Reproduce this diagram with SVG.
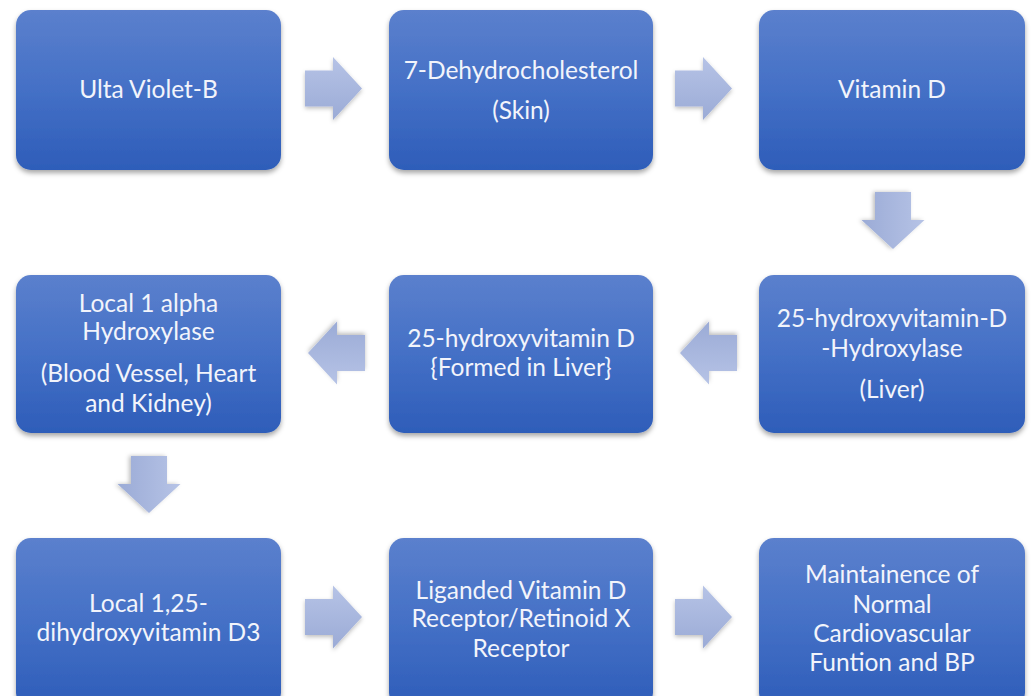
<svg xmlns="http://www.w3.org/2000/svg" width="1034" height="696" viewBox="0 0 1034 696">
<defs>
<linearGradient id="boxg" x1="0" y1="0" x2="0" y2="1">
<stop offset="0" stop-color="#5b80cd"/>
<stop offset="0.5" stop-color="#4470c6"/>
<stop offset="1" stop-color="#2e5db9"/>
</linearGradient>
<linearGradient id="arrg" x1="0" y1="0" x2="0" y2="1">
<stop offset="0" stop-color="#b6c3e6"/>
<stop offset="1" stop-color="#9babd6"/>
</linearGradient>
<filter id="sh" x="-10%" y="-10%" width="120%" height="125%">
<feDropShadow dx="0" dy="3" stdDeviation="2.5" flood-color="#000" flood-opacity="0.35"/>
</filter>
<filter id="ash" x="-20%" y="-20%" width="140%" height="150%">
<feDropShadow dx="0" dy="2" stdDeviation="2" flood-color="#000" flood-opacity="0.25"/>
</filter>
<path id="ar" d="M0,-18 H28 V-31.5 L57,0 L28,31.5 V18 H0 Z"/>
</defs>
<style>
.box{fill:url(#boxg);filter:url(#sh)}
.arr{fill:url(#arrg);filter:url(#ash)}
text{font-family:Lato,"Open Sans","Liberation Sans",sans-serif;font-size:24.5px;fill:#f2f4fb;text-anchor:middle}
</style>
<rect width="1034" height="696" fill="#ffffff"/>
<g id="connectors">
<use href="#ar" class="arr" transform="translate(305,88.5)"/>
<use href="#ar" class="arr" transform="translate(675,88.5)"/>
<use href="#ar" class="arr" transform="translate(893,192) rotate(90)"/>
<use href="#ar" class="arr" transform="translate(737,353) rotate(180)"/>
<use href="#ar" class="arr" transform="translate(365,353) rotate(180)"/>
<use href="#ar" class="arr" transform="translate(149,456) rotate(90)"/>
<use href="#ar" class="arr" transform="translate(305,617)"/>
<use href="#ar" class="arr" transform="translate(675,617)"/>
</g>
<g id="n1"><rect class="box" x="16" y="10" width="265" height="160" rx="15"/><text x="148.5" y="98">Ulta Violet-B</text></g>
<g id="n2"><rect class="box" x="389" y="10" width="264" height="160" rx="15"/><text x="521" y="79">7-Dehydrocholesterol</text><text x="521" y="119">(Skin)</text></g>
<g id="n3"><rect class="box" x="759" y="10" width="266" height="160" rx="15"/><text x="892" y="98">Vitamin D</text></g>
<g id="n4"><rect class="box" x="759" y="275" width="266" height="158" rx="15"/><text x="892" y="327">25-hydroxyvitamin-D</text><text x="892" y="357">-Hydroxylase</text><text x="892" y="398">(Liver)</text></g>
<g id="n5"><rect class="box" x="389" y="275" width="264" height="158" rx="15"/><text x="521" y="347">25-hydroxyvitamin D</text><text x="521" y="376">{Formed in Liver}</text></g>
<g id="n6"><rect class="box" x="16" y="275" width="265" height="158" rx="15"/><text x="148.5" y="312">Local 1 alpha</text><text x="148.5" y="340">Hydroxylase</text><text x="148.5" y="382">(Blood Vessel, Heart</text><text x="148.5" y="412">and Kidney)</text></g>
<g id="n7"><rect class="box" x="16" y="538" width="265" height="170" rx="15"/><text x="148.5" y="612">Local 1,25-</text><text x="148.5" y="641">dihydroxyvitamin D3</text></g>
<g id="n8"><rect class="box" x="389" y="538" width="264" height="170" rx="15"/><text x="521" y="599">Liganded Vitamin D</text><text x="521" y="627">Receptor/Retinoid X</text><text x="521" y="657">Receptor</text></g>
<g id="n9"><rect class="box" x="759" y="538" width="266" height="170" rx="15"/><text x="892" y="583">Maintainence of</text><text x="892" y="613">Normal</text><text x="892" y="642">Cardiovascular</text><text x="892" y="671">Funtion and BP</text></g>
</svg>
